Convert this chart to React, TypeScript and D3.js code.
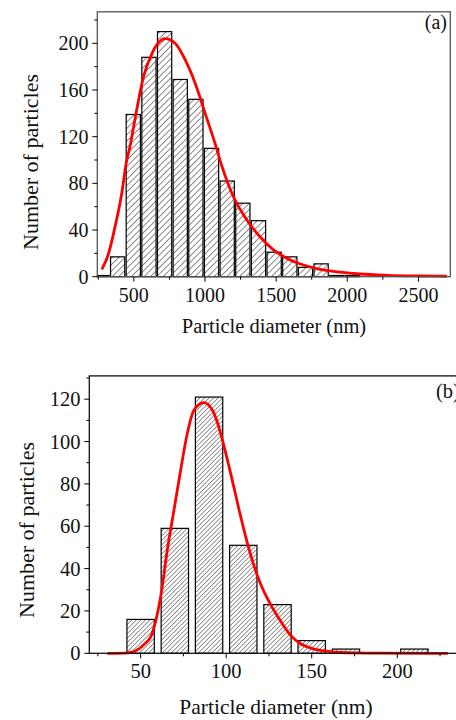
import React from 'react';
import * as d3 from 'd3';

// ---------- Panel (a) data ----------
const binCentersA = [276, 386, 496, 606, 716, 826, 936, 1046, 1156, 1266, 1376, 1486, 1596, 1706, 1816, 1926, 2036];
const countsA = [1, 17, 139, 188, 210, 169, 152, 110, 82, 63, 48, 21, 17, 8, 11, 1, 1];
const fitXA = [275, 320, 368, 415, 447, 470, 520, 567, 626, 696, 719, 790, 860, 930, 1001, 1071, 1110, 1200, 1294, 1388, 1481, 1575, 1692, 1809, 1950, 2091, 2279, 2513, 2700];
const fitYA = [6.3, 19, 43, 71.5, 98, 110, 143, 171, 191, 203, 204, 200, 186, 166, 140, 114, 98, 68.5, 48.6, 34, 23, 15.8, 10, 6.3, 3.9, 2.3, 1.2, 0.6, 0.4];
const xMajorA = [500, 1000, 1500, 2000, 2500];
const xMinorA = [250, 750, 1250, 1750, 2250];
const yMajorA = [0, 40, 80, 120, 160, 200];
const yMinorA = [20, 60, 100, 140, 180, 220];

// ---------- Panel (b) data ----------
const binCentersB = [50, 70, 90, 110, 130, 150, 170, 190, 210];
const countsB = [16, 59, 121, 51, 23, 6, 2, 0, 2];
const fitXB = [30.6, 40, 45, 48, 52, 55.9, 61.7, 65.6, 69.5, 73.4, 77.3, 81.2, 87, 92.9, 97.8, 102.6, 108.5, 112.4, 116, 120, 126, 132, 137.7, 143.5, 150, 157, 165, 175, 190, 229.6];
const fitYB = [0, 0.1, 0.6, 1.6, 4.2, 7.8, 26.7, 48.8, 67.7, 86.6, 103.9, 114.9, 118.4, 113.3, 100.7, 85, 64.5, 52, 42, 33, 23, 15, 8.5, 4.5, 2.3, 1.1, 0.5, 0.2, 0.05, 0];
const xMajorB = [50, 100, 150, 200];
const xMinorB = [25, 75, 125, 175, 225];
const yMajorB = [0, 20, 40, 60, 80, 100, 120];
const yMinorB = [10, 30, 50, 70, 90, 110, 130];

const FONT = '"Liberation Serif", "Times New Roman", serif';

type PanelProps = {
  left: number; right: number; top: number; bottom: number;
  xDomain: [number, number]; yDomain: [number, number];
  centers: number[]; counts: number[]; barW: number;
  fitX: number[]; fitY: number[];
  xMajor: number[]; xMinor: number[]; yMajor: number[]; yMinor: number[];
  hatchId: string; frameColor: string;
  tickFont: number; yLabelEnd: number; xLabelOffset: number;
  xTitle: { x: number; y: number; size: number };
  yTitle: { x: number; y: number; size: number };
  tag: { text: string; x: number; y: number; anchor: string; size: number };
  majorLen: number; minorLen: number;
};

function Panel(p: PanelProps) {
  const x = d3.scaleLinear().domain(p.xDomain).range([p.left, p.right]);
  const y = d3.scaleLinear().domain(p.yDomain).range([p.bottom, p.top]);
  const line = d3.line<number>()
    .x((_, i) => x(p.fitX[i]))
    .y((d) => y(d))
    .curve(d3.curveMonotoneX);
  const inX = (v: number) => v >= p.xDomain[0] && v <= p.xDomain[1];
  const inY = (v: number) => v >= p.yDomain[0] && v <= p.yDomain[1];
  return (
    <g>
      {p.centers.map((c, i) => {
        if (p.counts[i] <= 0) return null;
        const x0 = Math.max(p.xDomain[0], c - p.barW / 2);
        const x1 = c + p.barW / 2;
        return (
          <rect key={i} x={x(x0)} y={y(p.counts[i])} width={x(x1) - x(x0)} height={y(0) - y(p.counts[i])}
            fill={`url(#${p.hatchId})`} stroke="#000" strokeWidth={1.2} />
        );
      })}
      <path d={line(p.fitY) || ''} fill="none" stroke="#ff0000" strokeWidth={2.8} strokeLinejoin="round" />
      <rect x={p.left} y={p.top} width={p.right - p.left} height={p.bottom - p.top} fill="none" stroke={p.frameColor} strokeWidth={1.3} />
      {p.xMajor.filter(inX).map((v) => (
        <g key={'xm' + v}>
          <line x1={x(v)} x2={x(v)} y1={p.bottom} y2={p.bottom + p.majorLen} stroke="#000" strokeWidth={1} />
          <text x={x(v)} y={p.bottom + p.xLabelOffset} textAnchor="middle" fontFamily={FONT} fontSize={p.tickFont} fill="#111">{v}</text>
        </g>
      ))}
      {p.xMinor.filter(inX).map((v) => (
        <line key={'xn' + v} x1={x(v)} x2={x(v)} y1={p.bottom} y2={p.bottom + p.minorLen} stroke="#000" strokeWidth={1} />
      ))}
      {p.yMajor.filter(inY).map((v) => (
        <g key={'ym' + v}>
          <line x1={p.left} x2={p.left - p.majorLen} y1={y(v)} y2={y(v)} stroke="#000" strokeWidth={1} />
          <text x={p.yLabelEnd} y={y(v)} dy="0.35em" textAnchor="end" fontFamily={FONT} fontSize={p.tickFont} fill="#111">{v}</text>
        </g>
      ))}
      {p.yMinor.filter(inY).map((v) => (
        <line key={'yn' + v} x1={p.left} x2={p.left - p.minorLen} y1={y(v)} y2={y(v)} stroke="#000" strokeWidth={1} />
      ))}
      <text x={p.xTitle.x} y={p.xTitle.y} textAnchor="middle" fontFamily={FONT} fontSize={p.xTitle.size} fill="#111">Particle diameter (nm)</text>
      <text transform={`translate(${p.yTitle.x},${p.yTitle.y}) rotate(-90)`} textAnchor="middle" fontFamily={FONT} fontSize={p.yTitle.size} fill="#111">Number of particles</text>
      <text x={p.tag.x} y={p.tag.y} textAnchor={p.tag.anchor as any} fontFamily={FONT} fontSize={p.tag.size} fill="#111">{p.tag.text}</text>
    </g>
  );
}

export default function App() {
  return (
    <svg width={456} height={720} style={{ position: 'absolute', left: 0, top: 0, background: '#fff' }}>
      <defs>
        <pattern id="hatchA" patternUnits="userSpaceOnUse" width={4.5} height={4.5} patternTransform="rotate(45)">
          <rect width={4.5} height={4.5} fill="#fff" />
          <line x1={0} y1={0} x2={0} y2={4.5} stroke="#000" strokeWidth={0.9} />
        </pattern>
        <pattern id="hatchB" patternUnits="userSpaceOnUse" width={3.2} height={3.2} patternTransform="rotate(45)">
          <rect width={3.2} height={3.2} fill="#fff" />
          <line x1={0} y1={0} x2={0} y2={3.2} stroke="#000" strokeWidth={0.8} />
        </pattern>
      </defs>
      <rect width={456} height={720} fill="#fff" />
      <Panel
        left={97.3} right={450.3} top={11.8} bottom={276.7}
        xDomain={[243, 2724]} yDomain={[0, 227]}
        centers={binCentersA} counts={countsA} barW={100}
        fitX={fitXA} fitY={fitYA}
        xMajor={xMajorA} xMinor={xMinorA} yMajor={yMajorA} yMinor={yMinorA}
        hatchId="hatchA" frameColor="#555"
        tickFont={20} yLabelEnd={88.5} xLabelOffset={25}
        xTitle={{ x: 274, y: 333, size: 20.5 }}
        yTitle={{ x: 38, y: 162, size: 22 }}
        tag={{ text: '(a)', x: 447, y: 29, anchor: 'end', size: 20 }}
        majorLen={5} minorLen={3}
      />
      <Panel
        left={89.3} right={465.7} top={375.9} bottom={653.3}
        xDomain={[20, 240]} yDomain={[0, 131]}
        centers={binCentersB} counts={countsB} barW={16}
        fitX={fitXB} fitY={fitYB}
        xMajor={xMajorB} xMinor={xMinorB} yMajor={yMajorB} yMinor={yMinorB}
        hatchId="hatchB" frameColor="#111"
        tickFont={20.5} yLabelEnd={80.5} xLabelOffset={25}
        xTitle={{ x: 276, y: 714, size: 21.5 }}
        yTitle={{ x: 33.5, y: 530, size: 22 }}
        tag={{ text: '(b)', x: 436, y: 398, anchor: 'start', size: 20.5 }}
        majorLen={5} minorLen={3}
      />
    </svg>
  );
}
